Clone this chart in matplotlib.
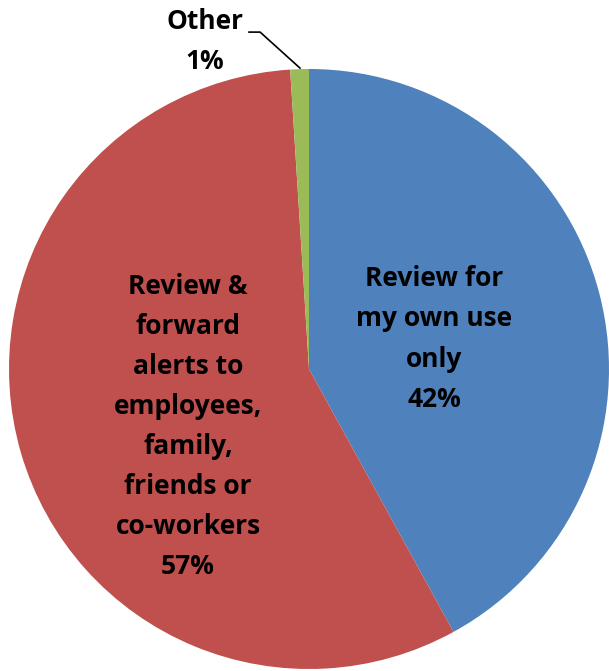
import matplotlib
matplotlib.use('Agg')
import matplotlib.pyplot as plt

categories = ['Review for\nmy own use\nonly',
              'Review &\nforward\nalerts to\nemployees,\nfamily,\nfriends or\nco-workers',
              'Other']
shares = [42, 57, 1]
colors = ['#4F81BD', '#C0504D', '#9BBB59']

plt.rcParams['font.family'] = ['Open Sans', 'DejaVu Sans']

fig = plt.figure(figsize=(6.09, 6.71), dpi=100)
ax = fig.add_axes([0, 0, 1, 1])

# slices run clockwise from 12 o'clock
ax.pie(shares, colors=colors, startangle=90, counterclock=False,
       radius=1.0, center=(0, 0), wedgeprops=dict(linewidth=0))

# keep 1 unit = 300 px so the pie sits where it should on the canvas
ax.set_xlim(-309 / 300, 300 / 300)
ax.set_ylim(-302 / 300, 369 / 300)
ax.set_aspect('equal')
ax.axis('off')

txt = dict(ha='center', va='center', fontsize=19, fontweight='bold',
           linespacing=1.62, color='black')
ax.text(0.417, 0.10, f'{categories[0]}\n{shares[0]}%', **txt)
ax.text(-0.403, -0.193, f'{categories[1]}\n{shares[1]}%', **txt)

# outside label for the tiny slice, with a leader line
ax.text(-0.347, 1.093, f'{categories[2]}\n{shares[2]}%', **txt)
ax.plot([-0.20, -0.163, -0.03], [1.123, 1.123, 1.003], color='black', lw=1.2)

fig.savefig('out.png', dpi=100)
